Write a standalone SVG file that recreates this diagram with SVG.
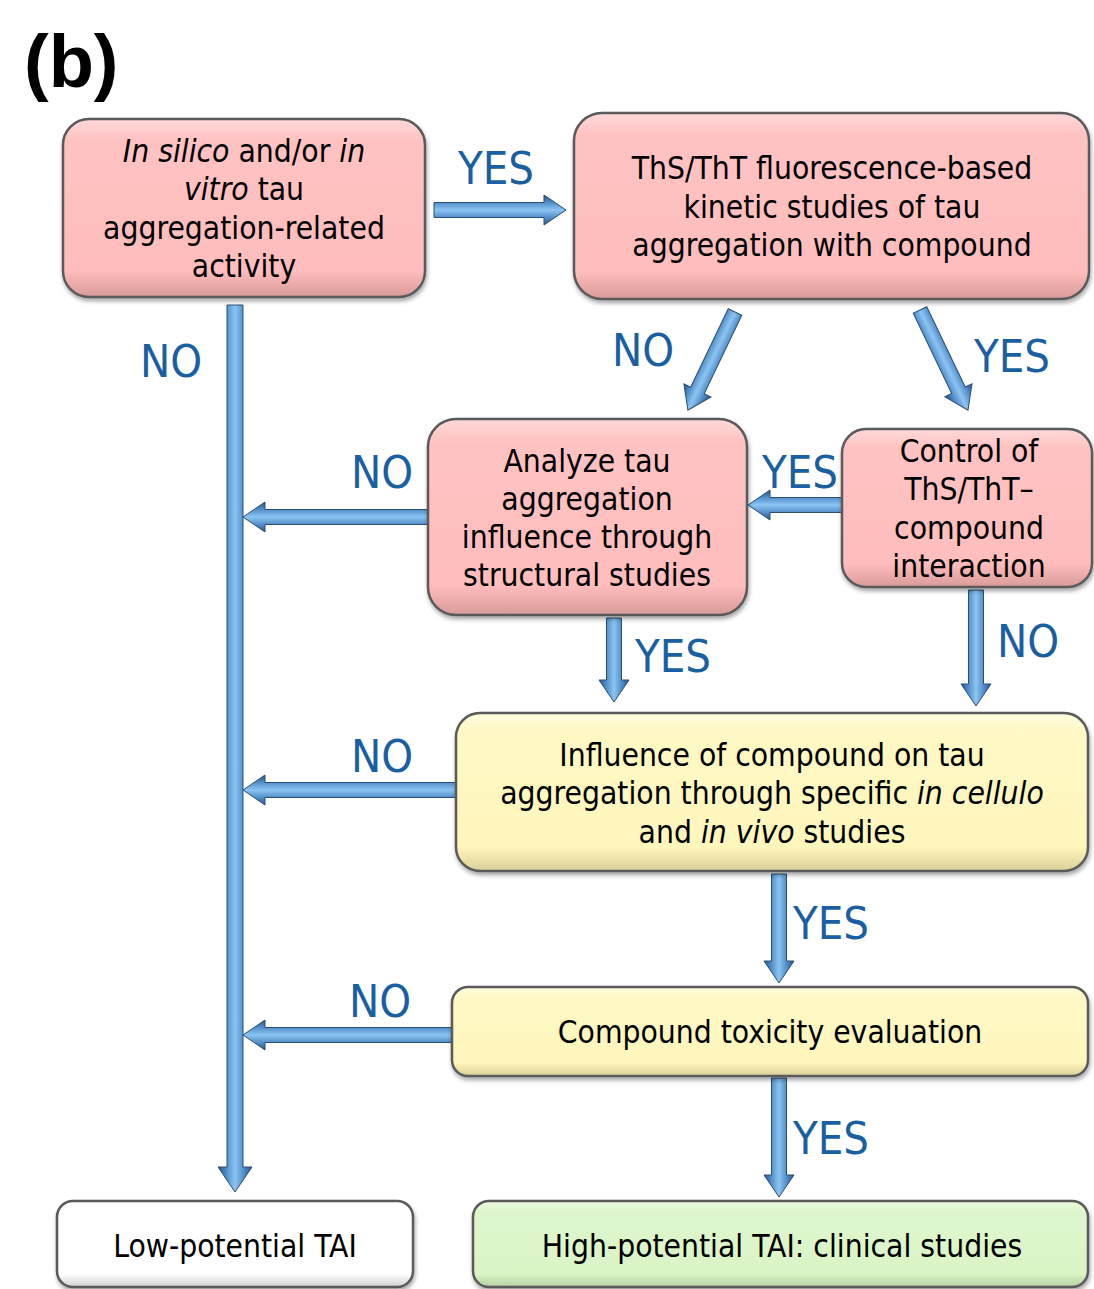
<svg xmlns="http://www.w3.org/2000/svg" width="1094" height="1289" viewBox="0 0 1094 1289">
<defs>
<linearGradient id="gPink" x1="0" y1="0" x2="0" y2="1">
<stop offset="0" stop-color="#FFD9D9"/><stop offset="0.12" stop-color="#FFC2C2"/><stop offset="0.85" stop-color="#FFBDBD"/><stop offset="1" stop-color="#D99A9A"/>
</linearGradient>
<linearGradient id="gYellow" x1="0" y1="0" x2="0" y2="1">
<stop offset="0" stop-color="#FFFDE0"/><stop offset="0.12" stop-color="#FFF8C4"/><stop offset="0.85" stop-color="#FFF6BC"/><stop offset="1" stop-color="#D9CF98"/>
</linearGradient>
<linearGradient id="gGreen" x1="0" y1="0" x2="0" y2="1">
<stop offset="0" stop-color="#EEFBE0"/><stop offset="0.12" stop-color="#DEF6CC"/><stop offset="0.85" stop-color="#DAF4C6"/><stop offset="1" stop-color="#B5CFA0"/>
</linearGradient>
<linearGradient id="gWhite" x1="0" y1="0" x2="0" y2="1">
<stop offset="0" stop-color="#FFFFFF"/><stop offset="0.85" stop-color="#FFFFFF"/><stop offset="1" stop-color="#D0D0D0"/>
</linearGradient>
<linearGradient id="gArrow" x1="0" y1="0" x2="0" y2="1">
<stop offset="0" stop-color="#2C527A"/><stop offset="0.22" stop-color="#4C88C4"/><stop offset="0.5" stop-color="#8CC4F2"/><stop offset="0.78" stop-color="#4C88C4"/><stop offset="1" stop-color="#2C527A"/>
</linearGradient>
<filter id="sh" x="-5%" y="-5%" width="110%" height="115%">
<feDropShadow dx="1" dy="3" stdDeviation="2" flood-color="#000" flood-opacity="0.35"/>
</filter>
</defs>
<style>
.box{stroke:#5A5A5A;stroke-width:2.5;filter:url(#sh)}
.t{font-family:"DejaVu Sans Condensed","DejaVu Sans",sans-serif;font-size:31.5px;fill:#000;text-anchor:middle}
.i{font-style:italic}
.lab{font-family:"DejaVu Sans Condensed","DejaVu Sans",sans-serif;font-size:45px;fill:#1B5FA3;text-anchor:middle}
.arr{fill:url(#gArrow);stroke:#2B4E74;stroke-width:1}
.title{font-family:"Liberation Sans","DejaVu Sans",sans-serif;font-size:74px;font-weight:bold;fill:#000}
</style>
<rect width="1094" height="1289" fill="#FFFFFF"/>
<text class="title" x="24" y="87">(b)</text>

<g id="connectors">
<path class="arr" transform="translate(434,210)" d="M0,-7.5 L110,-7.5 L110,-15 L132,0 L110,15 L110,7.5 L0,7.5 Z"/>
<path class="arr" transform="translate(235,305) rotate(90)" d="M0,-8 L862,-8 L862,-17 L887,0 L862,17 L862,8 L0,8 Z"/>
<path class="arr" transform="translate(735,312) rotate(115.6)" d="M0,-7.5 L87,-7.5 L87,-15 L109,0 L87,15 L87,7.5 L0,7.5 Z"/>
<path class="arr" transform="translate(920,310) rotate(64.4)" d="M0,-7.5 L89,-7.5 L89,-15 L111,0 L89,15 L89,7.5 L0,7.5 Z"/>
<path class="arr" transform="translate(842,505) rotate(180)" d="M0,-7.5 L72,-7.5 L72,-15 L94,0 L72,15 L72,7.5 L0,7.5 Z"/>
<path class="arr" transform="translate(428,517) rotate(180)" d="M0,-7.5 L163,-7.5 L163,-15 L185,0 L163,15 L163,7.5 L0,7.5 Z"/>
<path class="arr" transform="translate(614,618) rotate(90)" d="M0,-7.5 L62,-7.5 L62,-15 L84,0 L62,15 L62,7.5 L0,7.5 Z"/>
<path class="arr" transform="translate(976,590) rotate(90)" d="M0,-7.5 L94,-7.5 L94,-15 L116,0 L94,15 L94,7.5 L0,7.5 Z"/>
<path class="arr" transform="translate(456,790) rotate(180)" d="M0,-7.5 L191,-7.5 L191,-15 L213,0 L191,15 L191,7.5 L0,7.5 Z"/>
<path class="arr" transform="translate(779,874) rotate(90)" d="M0,-7.5 L87,-7.5 L87,-15 L109,0 L87,15 L87,7.5 L0,7.5 Z"/>
<path class="arr" transform="translate(452,1035) rotate(180)" d="M0,-7.5 L187,-7.5 L187,-15 L209,0 L187,15 L187,7.5 L0,7.5 Z"/>
<path class="arr" transform="translate(779,1078) rotate(90)" d="M0,-7.5 L97,-7.5 L97,-15 L119,0 L97,15 L97,7.5 L0,7.5 Z"/>
<text class="lab" x="496" y="184">YES</text>
<text class="lab" x="171" y="377">NO</text>
<text class="lab" x="643" y="366">NO</text>
<text class="lab" x="1012" y="372">YES</text>
<text class="lab" x="800" y="488">YES</text>
<text class="lab" x="382" y="488">NO</text>
<text class="lab" x="673" y="672">YES</text>
<text class="lab" x="1028" y="657">NO</text>
<text class="lab" x="382" y="772">NO</text>
<text class="lab" x="831" y="939">YES</text>
<text class="lab" x="380" y="1017">NO</text>
<text class="lab" x="831" y="1154">YES</text>
</g>

<g id="n1">
<rect class="box" x="63" y="119" width="362" height="178" rx="26" fill="url(#gPink)"/>
<text class="t" x="244" y="162"><tspan class="i">In silico</tspan> and/or <tspan class="i">in</tspan></text>
<text class="t" x="244" y="200"><tspan class="i">vitro</tspan> tau</text>
<text class="t" x="244" y="239">aggregation-related</text>
<text class="t" x="244" y="277">activity</text>
</g>
<g id="n2">
<rect class="box" x="574" y="113" width="515" height="186" rx="28" fill="url(#gPink)"/>
<text class="t" x="832" y="179">ThS/ThT fluorescence-based</text>
<text class="t" x="832" y="218">kinetic studies of tau</text>
<text class="t" x="832" y="256">aggregation with compound</text>
</g>
<g id="n3">
<rect class="box" x="428" y="419" width="319" height="196" rx="28" fill="url(#gPink)"/>
<text class="t" x="587" y="472">Analyze tau</text>
<text class="t" x="587" y="510">aggregation</text>
<text class="t" x="587" y="548">influence through</text>
<text class="t" x="587" y="586">structural studies</text>
</g>
<g id="n4">
<rect class="box" x="842" y="429" width="250" height="158" rx="24" fill="url(#gPink)"/>
<text class="t" x="969" y="462">Control of</text>
<text class="t" x="969" y="500">ThS/ThT–</text>
<text class="t" x="969" y="539">compound</text>
<text class="t" x="969" y="577">interaction</text>
</g>
<g id="n5">
<rect class="box" x="456" y="713" width="632" height="158" rx="24" fill="url(#gYellow)"/>
<text class="t" x="772" y="766">Influence of compound on tau</text>
<text class="t" x="772" y="804">aggregation through specific <tspan class="i">in cellulo</tspan></text>
<text class="t" x="772" y="843">and <tspan class="i">in vivo</tspan> studies</text>
</g>
<g id="n6">
<rect class="box" x="452" y="987" width="636" height="89" rx="16" fill="url(#gYellow)"/>
<text class="t" x="770" y="1043">Compound toxicity evaluation</text>
</g>
<g id="n7">
<rect class="box" x="57" y="1201" width="356" height="86" rx="16" fill="url(#gWhite)"/>
<text class="t" x="235" y="1257">Low-potential TAI</text>
</g>
<g id="n8">
<rect class="box" x="473" y="1201" width="615" height="86" rx="16" fill="url(#gGreen)"/>
<text class="t" x="782" y="1257">High-potential TAI: clinical studies</text>
</g>
</svg>
